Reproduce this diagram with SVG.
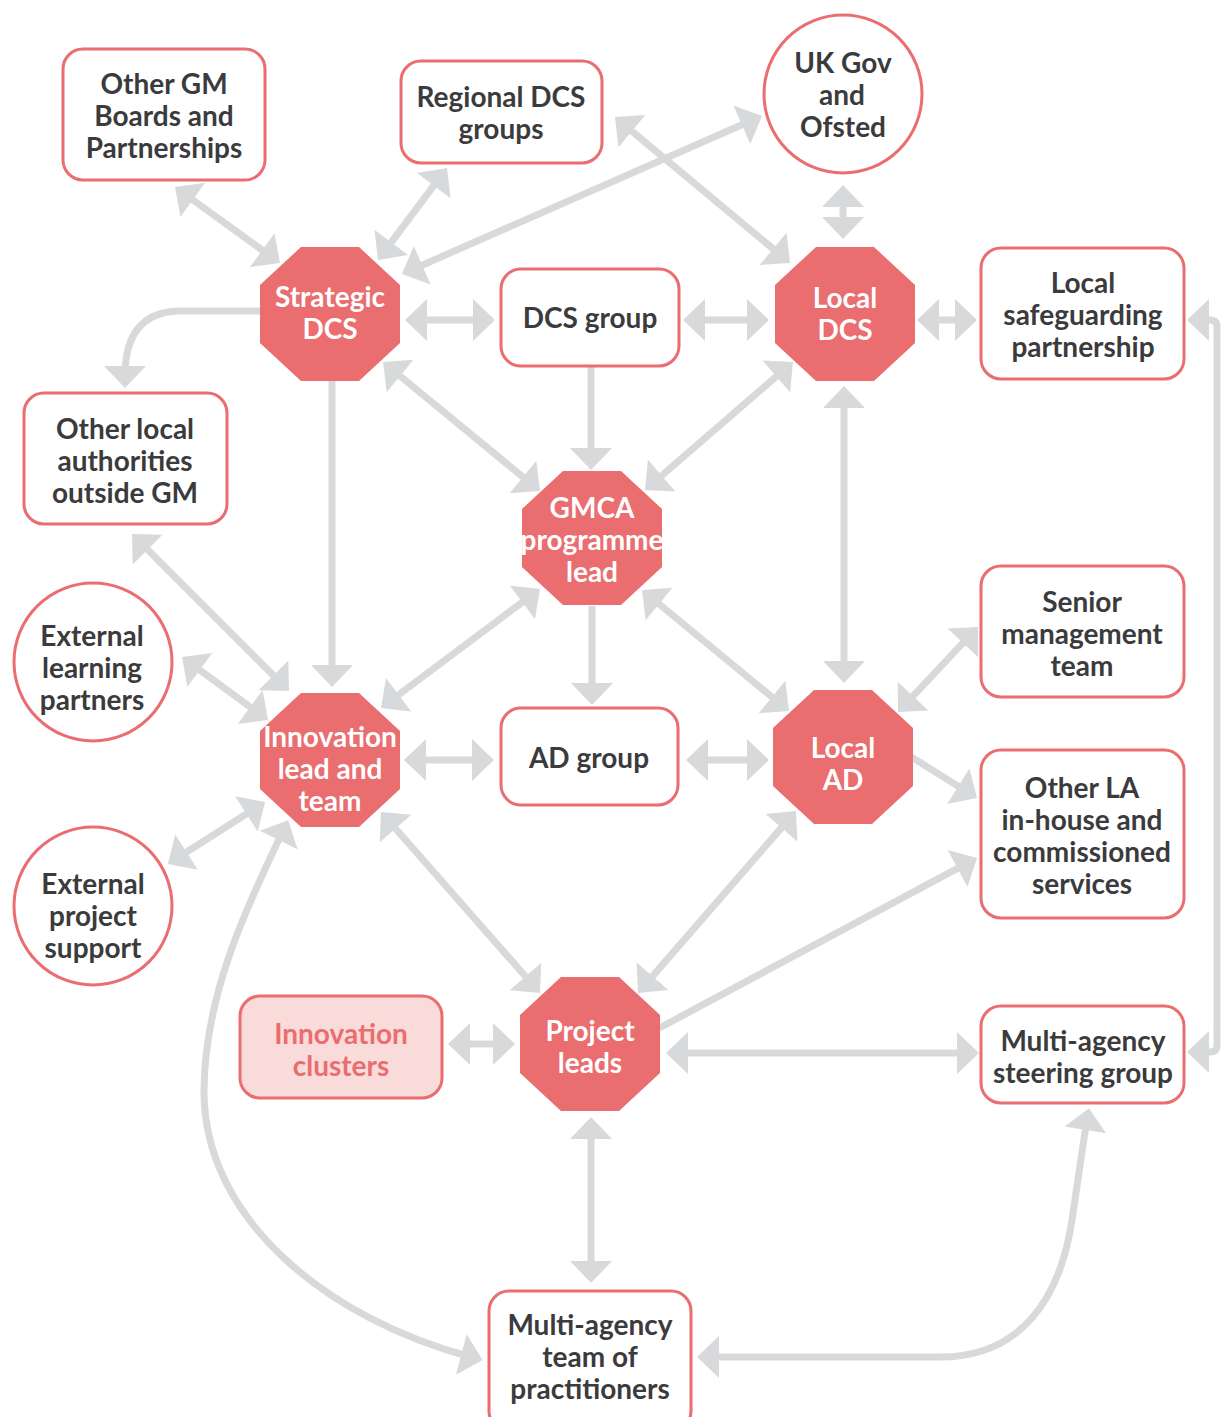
<svg xmlns="http://www.w3.org/2000/svg" xmlns:xlink="http://www.w3.org/1999/xlink" width="1228" height="1417" viewBox="0 0 1228 1417">
  <style>
    .box { fill: #ffffff; stroke: #ea6d70; stroke-width: 3; }
    .soft { fill: #f9dcda; stroke: #ea6d70; stroke-width: 3; }
    .oct { fill: #ea6d70; }
    .lbl { font-family: Lato, "Liberation Sans", sans-serif; font-weight: 700; font-size: 28px; text-anchor: middle; fill: #3b3b3d; }
    .lbl.w { fill: #ffffff; }
    .lbl.p { fill: #ea6d70; }
    .link { fill: none; stroke: #d8d9db; stroke-width: 7; }
    .both { marker-start: url(#head); marker-end: url(#head); }
    .one { marker-end: url(#head); }
  </style>
  <defs>
    <marker id="head" markerUnits="userSpaceOnUse" markerWidth="22" markerHeight="42" refX="10" refY="21" orient="auto-start-reverse" overflow="visible">
      <path d="M0,0 L22,21 L0,42 Z" fill="#d8d9db"/>
    </marker>
    <polygon id="octagon" class="oct" points="41,0 99,0 140,38 140,96 99,134 41,134 0,96 0,38"/>
  </defs>

  <rect width="1228" height="1417" fill="#ffffff"/>

  <g id="connectors">
    <path class="link both" d="M184.7,194 L270.3,256"/>
    <path class="link both" d="M439.8,177.6 L385.2,250.4"/>
    <path class="link both" d="M751,120.8 L413,269.2"/>
    <path class="link both" d="M624.2,124.7 L780.8,255.3"/>
    <path class="link both" d="M843,197 L843,227"/>
    <path class="link both" d="M417,320 L483,320"/>
    <path class="link both" d="M695,320 L757,320"/>
    <path class="link both" d="M929,320 L965,320"/>
    <path class="link both" d="M1199,320 H1210 Q1217,320 1217,327 V1045 Q1217,1052 1210,1052 H1199"/>
    <path class="link one" d="M260,311 H178 Q125,313 125,376"/>
    <path class="link one" d="M332,380 V675"/>
    <path class="link both" d="M392.3,369.6 L530.7,483.4"/>
    <path class="link one" d="M591,366 V458"/>
    <path class="link both" d="M783.9,369.8 L654.1,482.2"/>
    <path class="link both" d="M844,398 V671"/>
    <path class="link both" d="M140.5,542.5 L280.5,682.5"/>
    <path class="link both" d="M191.7,664.1 L258.3,712.9"/>
    <path class="link both" d="M530.4,596.2 L390.6,700.8"/>
    <path class="link one" d="M592,606 V693"/>
    <path class="link both" d="M651.3,597.6 L779.7,703.4"/>
    <path class="link both" d="M416,760 L482,760"/>
    <path class="link both" d="M698,760 L757,760"/>
    <path class="link both" d="M906.2,703.3 L969.8,635.7"/>
    <path class="link one" d="M905,753 L966.8,791.6"/>
    <path class="link both" d="M178.1,857.5 L254.9,808.5"/>
    <path class="link both" d="M388.9,821 L532.1,984"/>
    <path class="link both" d="M788.1,820.1 L645.9,983.9"/>
    <path class="link one" d="M650,1033 L966.4,863.7"/>
    <path class="link both" d="M460,1044 L503,1044"/>
    <path class="link both" d="M678,1053 L967,1053"/>
    <path class="link both" d="M591,1129 V1271"/>
    <path class="link both" d="M283,831 C240,920 205,1000 204,1090 C203,1220 330,1320 471,1357"/>
    <path class="link both" d="M709,1357 H940 C1020,1357 1060,1300 1072,1220 C1078,1180 1082,1150 1087,1120"/>
  </g>

  <g id="other-gm-boards">
    <rect class="box" x="63" y="49" width="202" height="131" rx="20"/>
    <text class="lbl" x="164" y="94">Other GM</text>
    <text class="lbl" x="164" y="126">Boards and</text>
    <text class="lbl" x="164" y="158">Partnerships</text>
  </g>
  <g id="regional-dcs-groups">
    <rect class="box" x="401" y="61" width="201" height="102" rx="20"/>
    <text class="lbl" x="501" y="107">Regional DCS</text>
    <text class="lbl" x="501" y="139">groups</text>
  </g>
  <g id="uk-gov-ofsted">
    <circle class="box" cx="843" cy="94" r="79"/>
    <text class="lbl" x="843" y="73">UK Gov</text>
    <text class="lbl" x="842" y="105">and</text>
    <text class="lbl" x="843" y="137">Ofsted</text>
  </g>
  <g id="local-safeguarding">
    <rect class="box" x="981" y="248" width="203" height="131" rx="20"/>
    <text class="lbl" x="1083" y="293">Local</text>
    <text class="lbl" x="1083" y="325">safeguarding</text>
    <text class="lbl" x="1083" y="357">partnership</text>
  </g>
  <g id="strategic-dcs">
    <use xlink:href="#octagon" x="260" y="247"/>
    <text class="lbl w" x="330" y="307">Strategic</text>
    <text class="lbl w" x="330" y="339">DCS</text>
  </g>
  <g id="dcs-group">
    <rect class="box" x="501" y="269" width="178" height="97" rx="20"/>
    <text class="lbl" x="590" y="328">DCS group</text>
  </g>
  <g id="local-dcs">
    <use xlink:href="#octagon" x="775" y="247"/>
    <text class="lbl w" x="845" y="308">Local</text>
    <text class="lbl w" x="845" y="340">DCS</text>
  </g>
  <g id="other-local-authorities">
    <rect class="box" x="24" y="393" width="203" height="131" rx="20"/>
    <text class="lbl" x="125" y="439">Other local</text>
    <text class="lbl" x="125" y="471">authorities</text>
    <text class="lbl" x="125" y="503">outside GM</text>
  </g>
  <g id="gmca-programme-lead">
    <use xlink:href="#octagon" x="522" y="471"/>
    <text class="lbl w" x="592" y="518">GMCA</text>
    <text class="lbl w" x="592" y="550">programme</text>
    <text class="lbl w" x="592" y="582">lead</text>
  </g>
  <g id="external-learning-partners">
    <circle class="box" cx="93" cy="662" r="79"/>
    <text class="lbl" x="92" y="646">External</text>
    <text class="lbl" x="92" y="678">learning</text>
    <text class="lbl" x="92" y="710">partners</text>
  </g>
  <g id="innovation-lead">
    <use xlink:href="#octagon" x="260" y="693"/>
    <text class="lbl w" x="330" y="747">Innovation</text>
    <text class="lbl w" x="330" y="779">lead and</text>
    <text class="lbl w" x="330" y="811">team</text>
  </g>
  <g id="ad-group">
    <rect class="box" x="501" y="708" width="177" height="97" rx="20"/>
    <text class="lbl" x="589" y="768">AD group</text>
  </g>
  <g id="local-ad">
    <use xlink:href="#octagon" x="773" y="690"/>
    <text class="lbl w" x="843" y="758">Local</text>
    <text class="lbl w" x="843" y="790">AD</text>
  </g>
  <g id="senior-management">
    <rect class="box" x="981" y="566" width="203" height="131" rx="20"/>
    <text class="lbl" x="1082" y="612">Senior</text>
    <text class="lbl" x="1082" y="644">management</text>
    <text class="lbl" x="1082" y="676">team</text>
  </g>
  <g id="other-la-services">
    <rect class="box" x="981" y="750" width="203" height="168" rx="20"/>
    <text class="lbl" x="1082" y="798">Other LA</text>
    <text class="lbl" x="1082" y="830">in-house and</text>
    <text class="lbl" x="1082" y="862">commissioned</text>
    <text class="lbl" x="1082" y="894">services</text>
  </g>
  <g id="external-project-support">
    <circle class="box" cx="93" cy="906" r="79"/>
    <text class="lbl" x="93" y="894">External</text>
    <text class="lbl" x="93" y="926">project</text>
    <text class="lbl" x="93" y="958">support</text>
  </g>
  <g id="innovation-clusters">
    <rect class="soft" x="240" y="996" width="202" height="102" rx="20"/>
    <text class="lbl p" x="341" y="1044">Innovation</text>
    <text class="lbl p" x="341" y="1076">clusters</text>
  </g>
  <g id="project-leads">
    <use xlink:href="#octagon" x="520" y="977"/>
    <text class="lbl w" x="590" y="1041">Project</text>
    <text class="lbl w" x="590" y="1073">leads</text>
  </g>
  <g id="steering-group">
    <rect class="box" x="981" y="1006" width="203" height="97" rx="20"/>
    <text class="lbl" x="1083" y="1051">Multi-agency</text>
    <text class="lbl" x="1083" y="1083">steering group</text>
  </g>
  <g id="practitioner-team">
    <rect class="box" x="489" y="1291" width="202" height="140" rx="20"/>
    <text class="lbl" x="590" y="1335">Multi-agency</text>
    <text class="lbl" x="590" y="1367">team of</text>
    <text class="lbl" x="590" y="1399">practitioners</text>
  </g>
</svg>
